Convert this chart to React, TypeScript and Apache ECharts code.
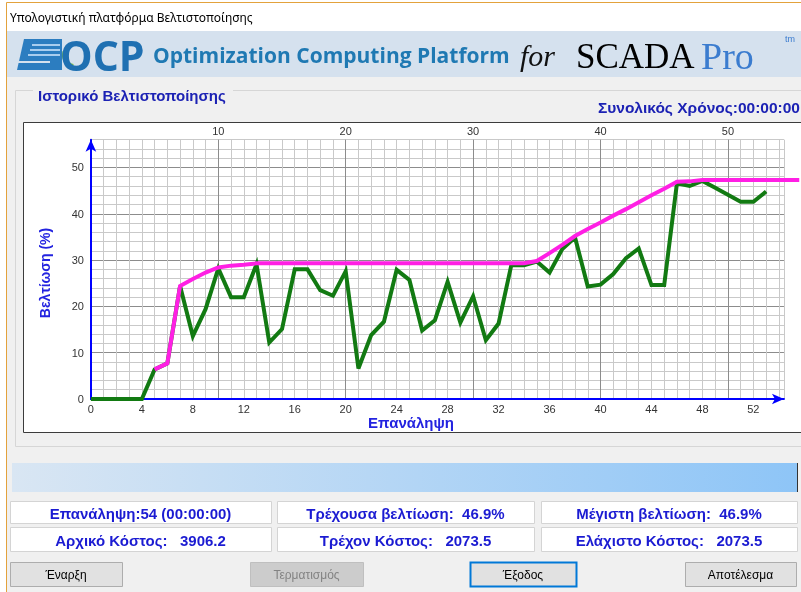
import React, { useEffect, useRef } from "react";
import * as echarts from "echarts";

// ---- data ----
const currentImprovement = [
  0, 0, 0, 0, 0, 6.4, 7.7, 24.4, 13.6, 19.4, 28.2, 22, 22, 29.1, 12.2, 15.1, 28, 28, 23.5, 22.3,
  27.6, 6.6, 13.8, 16.7, 27.9, 25.7, 14.8, 17, 25.3, 16.5, 22.2, 12.7, 16.3, 28.9, 28.9, 29.7, 27.3,
  32.4, 34.9, 24.3, 24.7, 27, 30.4, 32.5, 24.6, 24.6, 46.6, 46, 47.1, 45.6, 44.1, 42.6, 42.6, 44.8,
];
const bestStartIteration = 5;
const bestImprovement = [
  6.4, 7.7, 24.4, 25.9, 27.3, 28.4, 28.8, 29.0, 29.3, 29.3, 29.3, 29.3, 29.3, 29.3, 29.3, 29.3, 29.3,
  29.3, 29.3, 29.3, 29.3, 29.3, 29.3, 29.3, 29.3, 29.3, 29.3, 29.3, 29.3, 29.3, 29.8, 31.5, 33.3, 35.2,
  36.7, 38.1, 39.6, 41.0, 42.5, 44.0, 45.4, 46.9, 47.0, 47.3, 47.3, 47.3, 47.3, 47.3, 47.3,
];
const bestTail = [55.6, 47.3];
const xMax = 54.4;
const xMaxWide = 55.6;
const yMax = 56;

const windowTitle = "Υπολογιστική πλατφόρμα Βελτιστοποίησης";
const groupTitle = "Ιστορικό Βελτιστοποίησης";
const totalTime = "Συνολικός Χρόνος:00:00:00";
const yAxisName = "Βελτίωση (%)";
const xAxisName = "Επανάληψη";
const infoRow1 = ["Επανάληψη:54 (00:00:00)", "Τρέχουσα βελτίωση:  46.9%", "Μέγιστη βελτίωση:  46.9%"];
const infoRow2 = ["Αρχικό Κόστος:   3906.2", "Τρέχον Κόστος:   2073.5", "Ελάχιστο Κόστος:   2073.5"];
const buttons = ["Έναρξη", "Τερματισμός", "Έξοδος", "Αποτέλεσμα"];

const SANS = "Liberation Sans, Arial, sans-serif";
const NARROW = "Liberation Sans Narrow, Liberation Sans, sans-serif";
const SERIF = "Liberation Serif, DejaVu Serif, serif";
const UI = "Noto Sans, Open Sans, sans-serif";
const OPEN = "Open Sans, Noto Sans, sans-serif";

function txt(x: number, y: number, text: string, size: number, family: string, fill: string, extra: any = {}) {
  return {
    type: "text", z: 10, x, y,
    style: { text, fontSize: size, fontFamily: family, fill, verticalAlign: "middle", ...extra },
  };
}

export default function App() {
  const ref = useRef<HTMLDivElement>(null);
  useEffect(() => {
    if (!ref.current) return;
    const chart = echarts.init(ref.current, undefined, { renderer: "svg" });

    const greenData = currentImprovement.map((v, i) => [i, v]);
    const bestData = bestImprovement.map((v, i) => [i + bestStartIteration, v]);
    bestData.push(bestTail);

    const xSplitColors: string[] = [];
    for (let i = 0; i <= 55; i++) xSplitColors.push(i % 10 === 0 ? "#8c8c8c" : "#c9c9c9");
    const ySplitColors: string[] = [];
    for (let i = 0; i <= 28; i++) ySplitColors.push(i % 5 === 0 ? "#8c8c8c" : "#c9c9c9");

    const boxX = [10, 277, 541];
    const boxW = [261, 257, 256];
    const btnX = [10, 250, 470, 685];
    const btnW = [112, 113, 106, 111];
    const unit = 12.74;

    const graphic: any[] = [
      { type: "rect", z: -20, shape: { x: 0, y: 0, width: 801, height: 592 }, style: { fill: "#ffffff" } },
      { type: "rect", z: -19, shape: { x: 6.5, y: 2.5, width: 800, height: 600 }, style: { fill: "#f0f0f0", stroke: "#e3a23c", lineWidth: 1 } },
      { type: "rect", z: -18, shape: { x: 7, y: 3, width: 794, height: 28 }, style: { fill: "#ffffff" } },
      txt(10, 17, windowTitle, 12, UI, "#000"),
      { type: "rect", z: -18, shape: { x: 7, y: 31, width: 794, height: 46 }, style: { fill: "#d5e1ee" } },
      // logo icon
      { type: "polygon", z: 5, shape: { points: [[24, 39], [62, 39], [62, 70], [17, 70]] }, style: { fill: "#2c7dc0" } },
      { type: "line", z: 6, shape: { x1: 32, y1: 45, x2: 60, y2: 45 }, style: { stroke: "#a9cdee", lineWidth: 2 } },
      { type: "line", z: 6, shape: { x1: 30, y1: 50, x2: 60, y2: 50 }, style: { stroke: "#a9cdee", lineWidth: 2 } },
      { type: "line", z: 6, shape: { x1: 28, y1: 55, x2: 60, y2: 55 }, style: { stroke: "#a9cdee", lineWidth: 2 } },
      { type: "line", z: 6, shape: { x1: 18, y1: 62, x2: 50, y2: 62 }, style: { stroke: "#d5e1ee", lineWidth: 2 } },
      { type: "arc", z: 7, shape: { cx: 75, cy: 55, r: 11, startAngle: Math.PI * 0.55, endAngle: Math.PI * 1.1 }, style: { stroke: "#7fc241", lineWidth: 4, fill: "none" } },
      txt(60, 55, "OCP", 41, OPEN, "#1f70b2", { fontWeight: "bold" }),
      txt(153, 55, "Optimization Computing Platform", 21, OPEN, "#1f79b3", { fontWeight: "bold" }),
      txt(520, 55, "for", 30, SERIF, "#111", { fontStyle: "italic" }),
      txt(576, 56, "SCADA", 35, SERIF, "#000"),
      txt(701, 56, "Pro", 38, SERIF, "#3b7ccf"),
      txt(785, 39, "tm", 9, SANS, "#3b7ccf"),
      // group box
      { type: "rect", z: -17, shape: { x: 15.5, y: 90.5, width: 800, height: 356 }, style: { fill: "none", stroke: "#d6d6d6", lineWidth: 1 } },
      { type: "rect", z: -16, shape: { x: 33, y: 84, width: 200, height: 14 }, style: { fill: "#f0f0f0" } },
      txt(38, 95, groupTitle, 15, SANS, "#1c22b4", { fontWeight: "bold" }),
      txt(800, 107, totalTime, 15.5, SANS, "#1c22b4", { fontWeight: "bold", align: "right" }),
      // plot frame
      { type: "rect", z: -15, shape: { x: 23.5, y: 122.5, width: 790, height: 310 }, style: { fill: "#ffffff", stroke: "#3c3c3c", lineWidth: 1 } },
      { ...txt(45, 273, yAxisName, 14, SANS, "#2323e0", { fontWeight: "bold", align: "center" }), rotation: Math.PI / 2 },
      txt(411, 422, xAxisName, 15, SANS, "#2323e0", { fontWeight: "bold", align: "center" }),
      // progress bar
      {
        type: "rect", z: -15, shape: { x: 12, y: 463, width: 785, height: 29 },
        style: { fill: new echarts.graphic.LinearGradient(0, 0, 1, 0, [{ offset: 0, color: "#d9e6f3" }, { offset: 1, color: "#8ec5f7" }]) },
      },
      { type: "line", z: -14, shape: { x1: 797.5, y1: 463, x2: 797.5, y2: 492 }, style: { stroke: "#333", lineWidth: 1 } },
    ];

    [infoRow1, infoRow2].forEach((row, r) => {
      const y = r === 0 ? 501 : 527;
      const h = r === 0 ? 22 : 24;
      row.forEach((t, i) => {
        graphic.push({ type: "rect", z: -15, shape: { x: boxX[i] + 0.5, y: y + 0.5, width: boxW[i], height: h }, style: { fill: "#ffffff", stroke: "#d4d4d4", lineWidth: 1 } });
        graphic.push(txt(boxX[i] + boxW[i] / 2, y + h / 2 + 1, t, 15, NARROW, "#1b1bd2", { align: "center", fontWeight: "bold" }));
      });
    });

    buttons.forEach((t, i) => {
      const disabled = i === 1;
      const focused = i === 2;
      graphic.push({
        type: "rect", z: -15, shape: { x: btnX[i] + 0.5, y: 562.5, width: btnW[i], height: 24 },
        style: { fill: disabled ? "#cccccc" : "#e1e1e1", stroke: focused ? "#0078d7" : disabled ? "#bfbfbf" : "#adadad", lineWidth: focused ? 2 : 1 },
      });
      graphic.push(txt(btnX[i] + btnW[i] / 2, 575, t, 12, NARROW, disabled ? "#838383" : "#000", { align: "center" }));
    });

    chart.setOption({
      animation: false,
      graphic,
      grid: [
        { left: 90.9, right: 801 - 90.9 - xMax * unit, top: 139.7, bottom: 193, containLabel: false },
        { left: 90.9, right: 801 - 90.9 - xMaxWide * unit, top: 139.7, bottom: 193, containLabel: false },
      ],
      xAxis: [
        {
          type: "value", gridIndex: 0, position: "bottom", min: 0, max: xMax, interval: 1,
          axisLine: { show: true, lineStyle: { color: "#0000ff", width: 2 }, symbol: ["none", "arrow"], symbolSize: [8, 12] },
          axisTick: { show: false },
          axisLabel: {
            color: "#333", fontSize: 11, fontFamily: SANS, margin: 4, showMaxLabel: false,
            formatter: (v: number) => (Number.isInteger(v) && v % 4 === 0 ? String(v) : ""),
          },
          splitLine: { show: true, lineStyle: { color: xSplitColors, width: 1 } },
        },
        {
          type: "value", gridIndex: 0, position: "top", min: 0, max: xMax, interval: 10,
          axisLine: { show: false }, axisTick: { show: false }, splitLine: { show: false },
          axisLabel: {
            color: "#333", fontSize: 11, fontFamily: SANS, margin: 3, showMaxLabel: false,
            formatter: (v: number) => (v > 0 && Number.isInteger(v) && v % 10 === 0 ? String(v) : ""),
          },
        },
        {
          type: "value", gridIndex: 1, min: 0, max: xMaxWide, show: false,
        },
      ],
      yAxis: [
        {
          type: "value", gridIndex: 0, min: 0, max: yMax, interval: 2,
          axisLine: { show: true, lineStyle: { color: "#0000ff", width: 2 }, symbol: ["none", "arrow"], symbolSize: [8, 12] },
          axisTick: { show: false },
          axisLabel: {
            color: "#333", fontSize: 11, fontFamily: SANS, margin: 7,
            formatter: (v: number) => (v % 10 === 0 ? String(v) : ""),
          },
          splitLine: { show: true, lineStyle: { color: ySplitColors, width: 1 } },
        },
        { type: "value", gridIndex: 1, min: 0, max: yMax, show: false },
      ],
      series: [
        {
          type: "line", xAxisIndex: 0, yAxisIndex: 0, data: greenData, symbol: "none", clip: false, z: 3,
          lineStyle: { color: "#127a12", width: 4, join: "miter" },
        },
        {
          type: "line", xAxisIndex: 2, yAxisIndex: 1, data: bestData, symbol: "none", clip: false, z: 4,
          lineStyle: { color: "#ff1fe4", width: 4, join: "miter" },
        },
      ],
    });
    return () => chart.dispose();
  }, []);

  return (
    <div style={{ position: "fixed", left: 0, top: 0, width: 801, height: 592 }}>
      <div ref={ref} style={{ width: 801, height: 592 }} />
    </div>
  );
}
